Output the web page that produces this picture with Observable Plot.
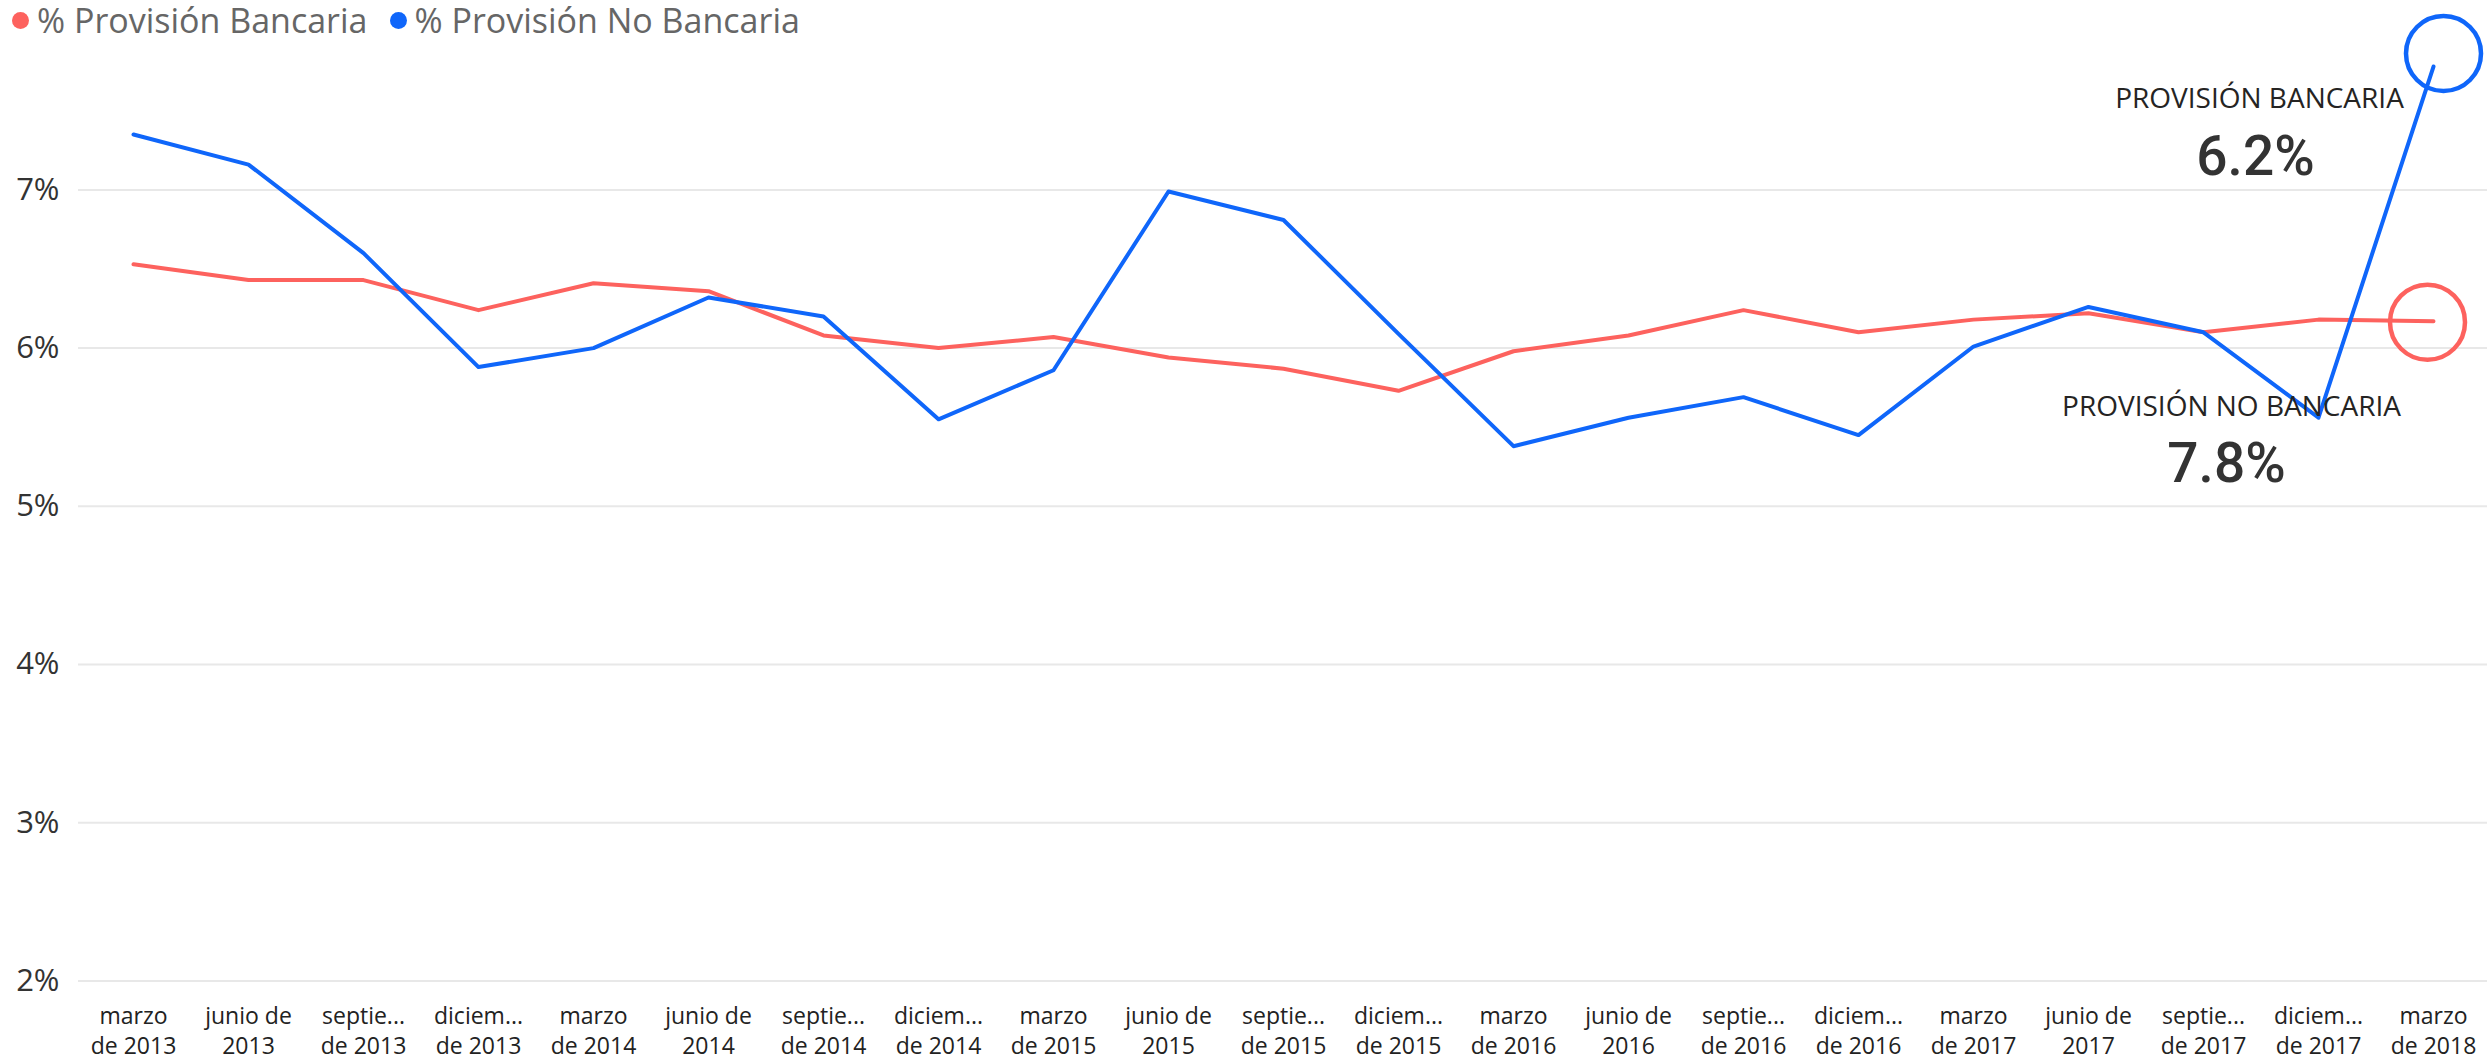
<!DOCTYPE html>
<html>
<head>
<meta charset="utf-8">
<script src="https://cdn.jsdelivr.net/npm/d3@7"></script>
<script src="https://cdn.jsdelivr.net/npm/@observablehq/plot@0.6"></script>
<style>
  html, body { margin: 0; padding: 0; background: #fff; }
  #wrap { position: relative; width: 2491px; height: 1062px; font-family: "Open Sans", sans-serif; }
  #legend { position: absolute; left: 12px; top: 0; height: 40px; line-height: 40px; display: flex; align-items: center; font-size: 34px; color: #666; white-space: nowrap; z-index: 2; }
  #legend .item { display: flex; align-items: center; margin-right: 22px; height: 40px; }
  #legend .sw { width: 17px; height: 17px; border-radius: 50%; margin-right: 8px; }
  #chart svg { display: block; }
</style>
</head>
<body>
<div id="wrap">
  <div id="legend"></div>
  <div id="chart"></div>
</div>
<script>
// ---- Data ----
const periods = [
  "2013-03","2013-06","2013-09","2013-12",
  "2014-03","2014-06","2014-09","2014-12",
  "2015-03","2015-06","2015-09","2015-12",
  "2016-03","2016-06","2016-09","2016-12",
  "2017-03","2017-06","2017-09","2017-12",
  "2018-03"
];
const tickLabels = [
  "marzo\nde 2013","junio de\n2013","septie...\nde 2013","diciem...\nde 2013",
  "marzo\nde 2014","junio de\n2014","septie...\nde 2014","diciem...\nde 2014",
  "marzo\nde 2015","junio de\n2015","septie...\nde 2015","diciem...\nde 2015",
  "marzo\nde 2016","junio de\n2016","septie...\nde 2016","diciem...\nde 2016",
  "marzo\nde 2017","junio de\n2017","septie...\nde 2017","diciem...\nde 2017",
  "marzo\nde 2018"
];
const provBancaria = [6.53,6.43,6.43,6.24,6.41,6.36,6.08,6.00,6.07,5.94,5.87,5.73,5.98,6.08,6.24,6.10,6.18,6.22,6.10,6.18,6.17];
const provNoBancaria = [7.35,7.16,6.60,5.88,6.00,6.32,6.20,5.55,5.86,6.99,6.81,6.09,5.38,5.56,5.69,5.45,6.01,6.26,6.10,5.56,7.78];
const yTicks = [2,3,4,5,6,7];
const seriesNames = ["% Provisión Bancaria","% Provisión No Bancaria"];
const seriesColors = ["#FD625E","#0F66FA"];
const cardTitles = ["PROVISIÓN BANCARIA","PROVISIÓN NO BANCARIA"];

// ---- Build tables ----
const rows = periods.flatMap((p, i) => [
  {period: p, series: seriesNames[0], value: provBancaria[i]},
  {period: p, series: seriesNames[1], value: provNoBancaria[i]}
]);
const labelOf = new Map(periods.map((p, i) => [p, tickLabels[i]]));
const last = periods.length - 1;
const lastPeriod = periods[last];
const fmt = v => d3.format(".1f")(v) + "%";

// ---- Legend ----
const legend = document.getElementById("legend");
seriesNames.forEach((name, i) => {
  const item = document.createElement("div");
  item.className = "item";
  const sw = document.createElement("span");
  sw.className = "sw";
  sw.style.background = seriesColors[i];
  const tx = document.createElement("span");
  tx.textContent = name;
  item.appendChild(sw);
  item.appendChild(tx);
  legend.appendChild(item);
});

// ---- Chart ----
const chart = Plot.plot({
  width: 2491,
  height: 1062,
  marginLeft: 78,
  marginRight: 4,
  marginTop: 31.2,
  marginBottom: 81.6,
  style: {fontFamily: "'Open Sans', sans-serif", background: "transparent", color: "#333", overflow: "visible"},
  x: {type: "point", domain: periods, padding: 0.397, label: null},
  y: {domain: [2, 8], label: null},
  color: {domain: seriesNames, range: seriesColors},
  marks: [
    Plot.gridY(yTicks, {stroke: "#e8e8e8", strokeOpacity: 1, strokeWidth: 2}),
    Plot.axisY(yTicks, {tickSize: 0, tickPadding: 19, tickFormat: d => d + "%", fontSize: 31, fill: "#333", label: null}),
    Plot.axisX(periods, {tickSize: 0, tickPadding: 22, tickFormat: d => labelOf.get(d), lineHeight: 1.3, fontSize: 23, fill: "#222", label: null}),
    Plot.line(rows, {x: "period", y: "value", z: "series", stroke: "series", strokeWidth: 4}),
    // end-point highlight circles
    Plot.dot([rows[last * 2]], {x: "period", y: "value", r: 37.5, stroke: seriesColors[0], strokeWidth: 4.5, fill: "none", dx: -6, dy: 1}),
    Plot.dot([rows[last * 2 + 1]], {x: "period", y: "value", r: 37.5, stroke: seriesColors[1], strokeWidth: 4.5, fill: "none", dx: 10, dy: -13}),
    // card-style annotations (labels as in the reference)
    Plot.text([cardTitles[0]], {x: () => lastPeriod, y: () => 7.572, text: d => d, dx: -174, fontSize: 28, fill: "#252423", fontFamily: "'Open Sans', sans-serif"}),
    Plot.text([provBancaria[last]], {x: () => lastPeriod, y: () => 7.205, text: d => fmt(d), dx: -178, fontSize: 55, fontWeight: 500, fill: "#333", fontFamily: "Roboto, sans-serif"}),
    Plot.text([cardTitles[1]], {x: () => lastPeriod, y: () => 5.625, text: d => d, dx: -202, fontSize: 28, fill: "#252423", fontFamily: "'Open Sans', sans-serif"}),
    Plot.text([provNoBancaria[last]], {x: () => lastPeriod, y: () => 5.265, text: d => fmt(d), dx: -207, fontSize: 55, fontWeight: 500, fill: "#333", fontFamily: "Roboto, sans-serif"})
  ]
});
document.getElementById("chart").appendChild(chart);
</script>
</body>
</html>
